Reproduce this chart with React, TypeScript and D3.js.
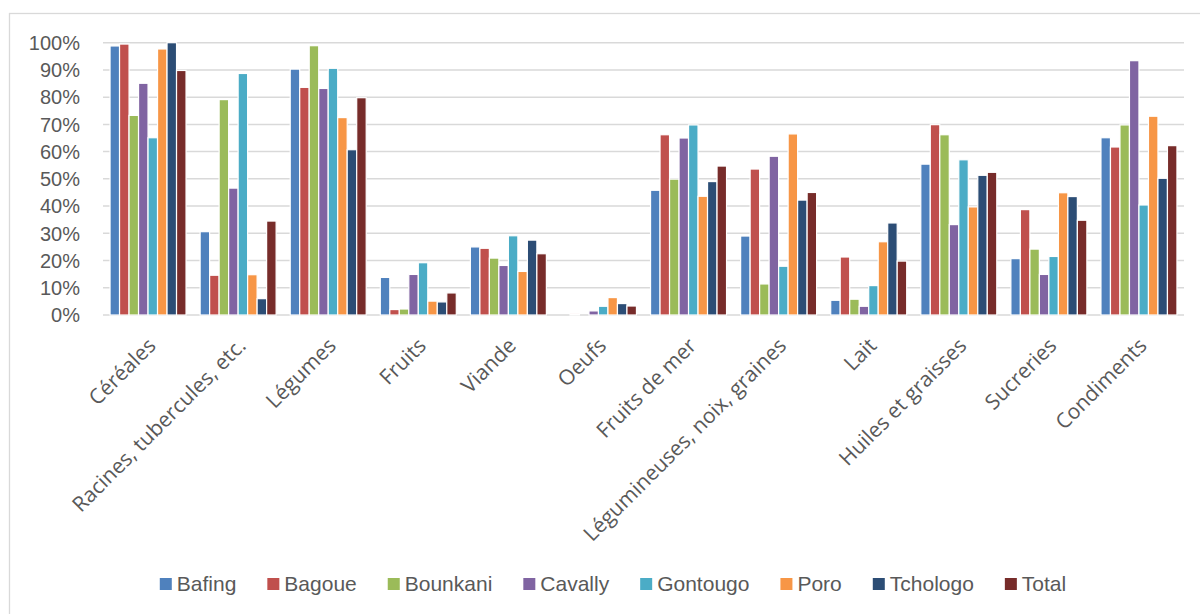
import React, { useEffect, useRef } from "react";
import * as d3 from "d3";

// Food groups shown along the x axis
const categories = [
  "Céréales",
  "Racines, tubercules, etc.",
  "Légumes",
  "Fruits",
  "Viande",
  "Oeufs",
  "Fruits de mer",
  "Légumineuses, noix, graines",
  "Lait",
  "Huiles et graisses",
  "Sucreries",
  "Condiments",
];

// Share of households (%) per region, one value per food group
const bafing = [98.8, 30.6, 90.3, 13.8, 25.0, 0, 45.8, 29.0, 5.4, 55.4, 20.7, 65.1];
const bagoue = [99.5, 14.6, 83.6, 2.0, 24.5, 0.4, 66.2, 53.6, 21.3, 69.9, 38.7, 61.7];
const bounkani = [73.3, 79.1, 98.9, 2.2, 20.9, 0, 49.9, 11.4, 5.8, 66.2, 24.2, 69.8];
const cavally = [85.1, 46.6, 83.2, 14.9, 18.2, 1.5, 65.0, 58.3, 3.2, 33.2, 14.9, 93.4];
const gontougo = [65.1, 88.7, 90.6, 19.2, 29.1, 3.2, 69.8, 17.9, 10.8, 57.0, 21.5, 40.4];
const poro = [97.7, 14.8, 72.5, 5.1, 16.0, 6.4, 43.6, 66.5, 26.9, 39.7, 44.9, 73.0];
const tchologo = [100, 6.0, 60.7, 4.8, 27.5, 4.2, 49.0, 42.2, 33.8, 51.3, 43.5, 50.2];
const total = [89.8, 34.5, 79.8, 8.1, 22.5, 3.3, 54.7, 45.0, 19.8, 52.4, 34.8, 62.2];

const seriesNames = ["Bafing", "Bagoue", "Bounkani", "Cavally", "Gontougo", "Poro", "Tchologo", "Total"];
const seriesValues = [bafing, bagoue, bounkani, cavally, gontougo, poro, tchologo, total];
const seriesColors = ["#4F81BD", "#C0504D", "#9BBB59", "#8064A2", "#4BACC6", "#F79646", "#2C4D75", "#772C2A"];

const yTicks = [0, 10, 20, 30, 40, 50, 60, 70, 80, 90, 100];

const W = 1200;
const H = 614;

export default function App() {
  const ref = useRef<SVGSVGElement | null>(null);

  useEffect(() => {
    const svg = d3.select(ref.current);
    svg.selectAll("*").remove();

    const left = 103;
    const right = 1184;
    const top = 42.7;
    const bottom = 315;

    // chart frame
    svg
      .append("rect")
      .attr("x", 9.5)
      .attr("y", 13.5)
      .attr("width", 1300)
      .attr("height", 800)
      .attr("fill", "#fff")
      .attr("stroke", "#d9d9d9")
      .attr("stroke-width", 1.3);

    const x0 = d3.scaleBand<string>().domain(categories).range([left, right]).padding(0);
    const groupWidth = x0.bandwidth() * 0.8435;
    const x1 = d3
      .scaleBand<string>()
      .domain(seriesNames)
      .range([0, groupWidth])
      .padding(0);
    const y = d3.scaleLinear().domain([0, 100]).range([bottom, top]);

    // gridlines
    svg
      .append("g")
      .selectAll("line")
      .data(yTicks)
      .join("line")
      .attr("x1", left)
      .attr("x2", right)
      .attr("y1", (d) => y(d))
      .attr("y2", (d) => y(d))
      .attr("stroke", "#d9d9d9")
      .attr("stroke-width", 1.5);

    // y tick labels
    svg
      .append("g")
      .selectAll("text")
      .data(yTicks)
      .join("text")
      .attr("x", 80)
      .attr("y", (d) => y(d))
      .attr("dy", "0.36em")
      .attr("text-anchor", "end")
      .attr("font-family", "'Liberation Sans', Arial, sans-serif")
      .attr("font-size", 20)
      .attr("fill", "#595959")
      .text((d) => `${d}%`);

    // bars
    const groups = svg
      .append("g")
      .selectAll("g")
      .data(categories)
      .join("g")
      .attr("transform", (c) => `translate(${(x0(c) ?? 0) + (x0.bandwidth() - groupWidth) / 2},0)`);

    groups
      .selectAll("rect")
      .data((c, i) => seriesNames.map((s, k) => ({ s, k, v: seriesValues[k][i] })))
      .join("rect")
      .attr("x", (d) => x1(d.s) ?? 0)
      .attr("width", x1.bandwidth())
      .attr("y", (d) => y(d.v))
      .attr("height", (d) => bottom - y(d.v))
      .attr("fill", (d) => seriesColors[d.k])
      .attr("stroke", (d) => (d.v > 0 ? "#fff" : "none"))
      .attr("stroke-width", 1.2);

    // category labels, rotated
    svg
      .append("g")
      .selectAll("text")
      .data(categories)
      .join("text")
      .attr(
        "transform",
        (c) => `translate(${(x0(c) ?? 0) + x0.bandwidth() / 2 + 9},${bottom + 32}) rotate(-45)`
      )
      .attr("text-anchor", "end")
      .attr("font-family", "'Open Sans', sans-serif")
      .attr("font-size", 21)
      .attr("fill", "#595959")
      .text((c) => c);

    // legend
    const legend = svg.append("g");
    const items = legend
      .selectAll("g")
      .data(seriesNames)
      .join("g");
    items
      .append("rect")
      .attr("width", 12)
      .attr("height", 12)
      .attr("y", -13)
      .attr("fill", (d, i) => seriesColors[i]);
    items
      .append("text")
      .attr("x", 17)
      .attr("y", 0)
      .attr("font-family", "'Liberation Sans', Arial, sans-serif")
      .attr("font-size", 21)
      .attr("fill", "#595959")
      .text((d) => d);
    const gap = 31;
    let cursor = 0;
    const offsets: number[] = [];
    items.each(function () {
      offsets.push(cursor);
      const t = d3.select(this).select("text").node() as SVGTextElement;
      cursor += 17 + t.getComputedTextLength() + gap;
    });
    const legendWidth = cursor - gap;
    const legendStart = 613 - legendWidth / 2;
    items.attr("transform", (d, i) => `translate(${legendStart + offsets[i]},${591})`);
  }, []);

  return (
    <svg
      ref={ref}
      width={W}
      height={H}
      style={{ position: "absolute", left: 0, top: 0, background: "#fff" }}
    />
  );
}
